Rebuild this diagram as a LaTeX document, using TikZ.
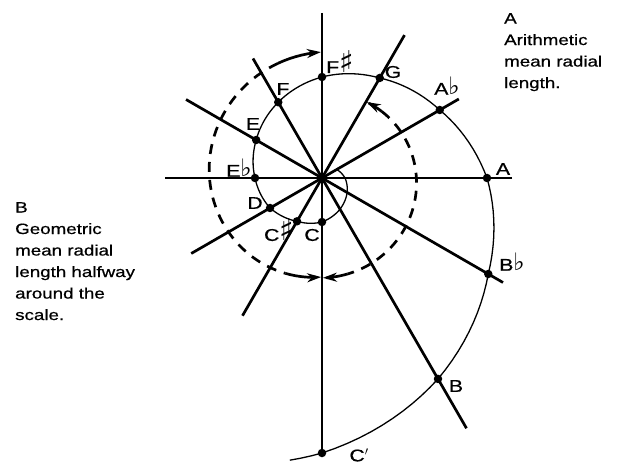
\documentclass[tikz,border=0pt]{standalone}
\usepackage{fontspec}
\setmainfont{Liberation Sans}[FakeStretch=1.25, FakeBold=0.6]
\newfontfamily\musicsym{DejaVu Sans}
\usepackage{tikz}
\usetikzlibrary{arrows.meta}
\newcommand{\sh}{{\musicsym\fontsize{30}{30}\selectfont\char"266F}}
\newcommand{\fl}{{\musicsym\fontsize{24}{24}\selectfont\char"266D}}

\begin{document}
\begin{tikzpicture}[x=1pt, y=1pt, every node/.style={font=\fontsize{15}{21.5}\selectfont}]
  \tikzstyle{ray}=[line width=2.7pt]
  \tikzstyle{spiral}=[line width=1.3pt]
  \tikzstyle{note}=[circle, fill, inner sep=0pt, minimum size=8.5pt]
  \tikzstyle{lbl}=[inner sep=0pt, font=\fontsize{17}{20}\selectfont]
  \tikzstyle{sweep}=[line width=2.7pt, dash pattern=on 10pt off 8pt]
  \tikzstyle{tip}=[line width=2.7pt, -{Stealth[length=14pt, width=9pt]}]

  \useasboundingbox (-322,-290) rectangle (298,178);
  \coordinate (O) at (0,0);

  % radial lines through the centre
  \foreach \ang/\up/\down in {0/190/157, 30/158/151, 60/165/159, 90/165/275, 120/138/289, 150/157/209} {
    \coordinate (ray\ang-a) at (\ang:\up);
    \coordinate (ray\ang-b) at ({\ang+180}:\down);
    \draw[ray] (ray\ang-a) -- (ray\ang-b);
  }

  % the spiral, one step of 30 degrees at a time
  \draw[spiral] (30:17)
    foreach \a/\b/\ra/\rb in {30/0/17/23, 0/-30/23/29, -30/-60/29/36, -60/-90/36/44,
      -90/-120/44/50, -120/-150/50/60, -150/-180/60/67, -180/-210/67/76,
      -210/-240/76/87.5, -240/-270/87.5/101, -270/-300/101/115.5, -300/-330/115.5/136,
      -330/-360/136/165, -360/-390/165/192, -390/-420/192/232, -420/-450/232/275} {
      -- plot[domain=\a:\b, samples=12] (\x:{\ra*(\rb/\ra)^((\a-(\x))/30)})
    }
    -- plot[domain=-450:-456.5, samples=4] (\x:{275+9*(-450-(\x))/6.5});

  \foreach \n/\ang/\r in {C/-90/44, Cs/-120/50, D/-150/60, Eb/180/67, E/150/76, F/120/87.5, Fs/90/101, G/60/115.5, Ab/30/136, A/0/165, Bb/-30/192, B/-60/232, Cp/-90/275}
    \node[note] (\n) at (\ang:\r) {};

  \node[lbl] (lC) at (-10,-57) {C};
  \node[lbl] (lCs) at (-43,-52) {C\sh};
  \node[lbl] (lD) at (-67,-25) {D};
  \node[lbl] (lEb) at (-83,10) {E\fl};
  \node[lbl] (lE) at (-69,54) {E};
  \node[lbl] (lF) at (-39,89) {F};
  \node[lbl] (lFs) at (18,116) {F\sh};
  \node[lbl] (lG) at (71,106) {G};
  \node[lbl] (lAb) at (125,92) {A\fl};
  \node[lbl] (lA) at (181,9) {A};
  \node[lbl] (lBb) at (190,-84) {B\fl};
  \node[lbl] (lB) at (134,-208) {B};
  \node[lbl] (lCp) at (37,-277) {C$'$};

  % dashed sweeps
  \draw[sweep] plot[domain=111:249, samples=50] (\x:{126-0.15*(\x-90)});
  \draw[tip] plot[domain=111:90.5, samples=8] (\x:{126-0.15*(\x-90)});
  \draw[tip] plot[domain=249:269.5, samples=8] (\x:{126-0.15*(\x-90)});
  \draw[sweep] plot[domain=48:-75, samples=50] (\x:{88+(60-(\x))*(0.125-0.0003*(60-(\x)))});
  \draw[tip] plot[domain=48:59.5, samples=8] (\x:{88+(60-(\x))*(0.125-0.0003*(60-(\x)))});
  \draw[tip] plot[domain=-75:-89.5, samples=8] (\x:{88+(60-(\x))*(0.125-0.0003*(60-(\x)))});

  \node[anchor=north west, align=left, inner sep=0pt] (noteA) at (182,165) {A\\Arithmetic\\mean radial\\length.};
  \node[anchor=north west, align=left, inner sep=0pt] (noteB) at (-307,-24) {B\\Geometric\\mean radial\\length halfway\\around the\\scale.};
\end{tikzpicture}
\end{document}
